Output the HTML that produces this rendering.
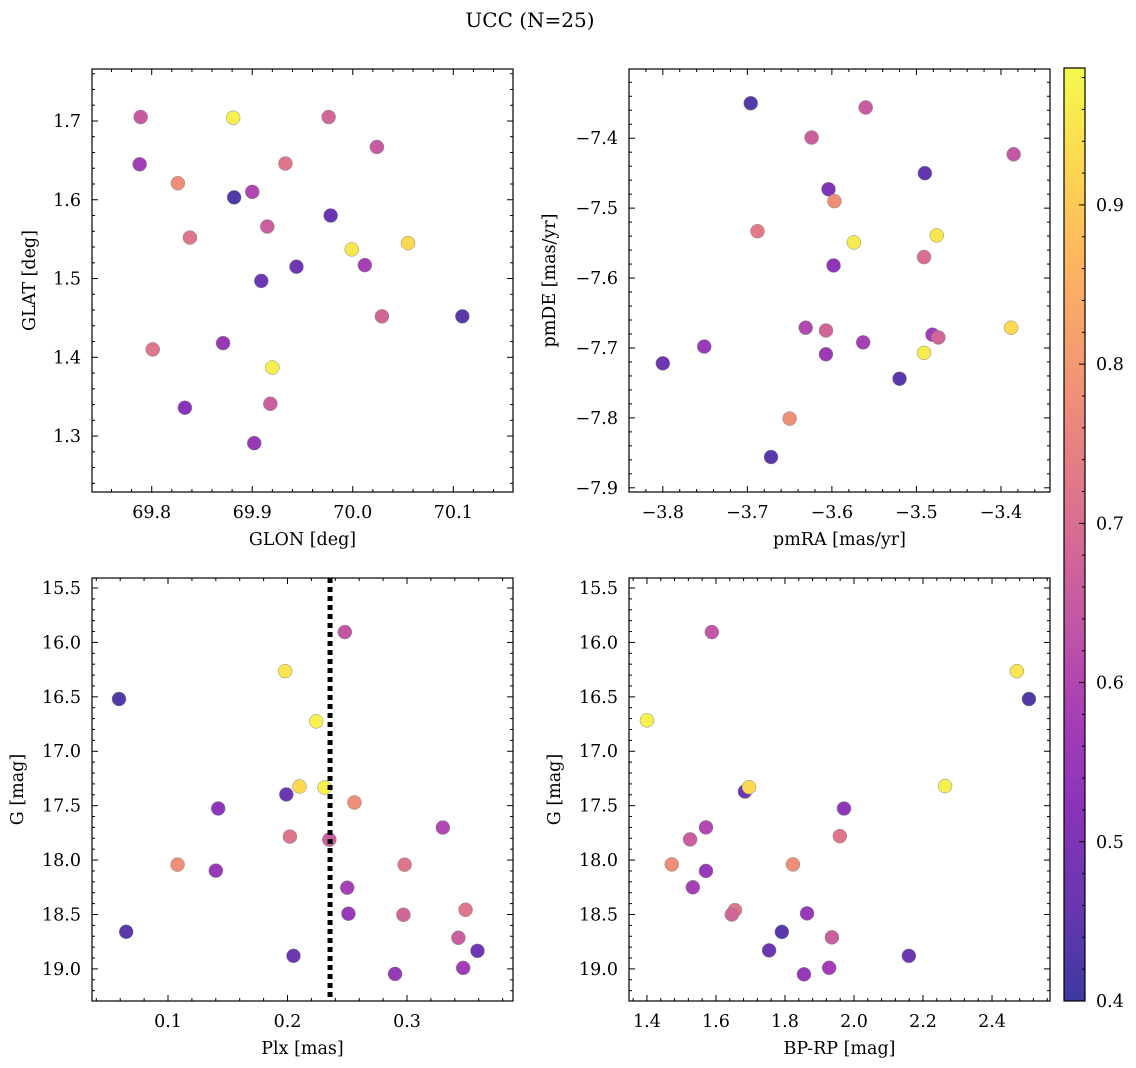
<!DOCTYPE html>
<html><head><meta charset="utf-8">
<style>
html,body{margin:0;padding:0;background:#fff;}
svg{display:block;font-family:"DejaVu Serif","Liberation Serif",serif;}
</style></head>
<body>
<svg id="fig" width="1136" height="1068" viewBox="0 0 1136 1068" xmlns="http://www.w3.org/2000/svg">
<text x="530" y="27" font-size="20" text-anchor="middle">UCC (N=25)</text>
</svg>
<script>
// ---- data ----
const glon = [69.789,69.788,69.826,69.881,69.976,69.933,70.024,69.882,69.900,69.915,69.978,69.838,69.909,69.944,69.999,70.055,70.012,70.029,70.109,69.801,69.871,69.920,69.918,69.833,69.902];
const glat = [1.705,1.645,1.621,1.704,1.705,1.646,1.667,1.603,1.610,1.566,1.580,1.552,1.497,1.515,1.537,1.545,1.517,1.452,1.452,1.410,1.418,1.387,1.341,1.336,1.291];
const cTL  = [0.65,0.57,0.78,0.97,0.68,0.72,0.65,0.43,0.60,0.66,0.46,0.72,0.47,0.47,0.95,0.93,0.58,0.68,0.44,0.72,0.55,0.97,0.66,0.52,0.55];

const pmra = [-3.696,-3.560,-3.624,-3.385,-3.490,-3.604,-3.597,-3.688,-3.574,-3.476,-3.598,-3.491,-3.631,-3.607,-3.481,-3.474,-3.388,-3.800,-3.751,-3.563,-3.607,-3.491,-3.520,-3.650,-3.672];
const pmde = [-7.350,-7.356,-7.399,-7.423,-7.450,-7.473,-7.490,-7.533,-7.549,-7.539,-7.582,-7.570,-7.671,-7.675,-7.681,-7.685,-7.671,-7.722,-7.698,-7.692,-7.709,-7.707,-7.744,-7.801,-7.856];
const cTR  = [0.43,0.65,0.66,0.64,0.45,0.50,0.78,0.73,0.96,0.95,0.53,0.70,0.60,0.68,0.57,0.68,0.93,0.47,0.55,0.58,0.56,0.96,0.44,0.78,0.44];

const plx  = [0.248,0.198,0.059,0.224,0.210,0.231,0.199,0.256,0.142,0.330,0.202,0.235,0.108,0.140,0.298,0.250,0.251,0.297,0.349,0.343,0.065,0.359,0.205,0.347,0.290];
const gBL  = [15.905,16.264,16.52,16.725,17.324,17.333,17.397,17.471,17.526,17.701,17.784,17.812,18.042,18.097,18.042,18.254,18.493,18.503,18.457,18.714,18.659,18.834,18.880,18.991,19.046];
const cBL  = [0.64,0.95,0.43,0.97,0.93,0.97,0.47,0.78,0.53,0.60,0.72,0.66,0.78,0.55,0.72,0.58,0.55,0.68,0.72,0.66,0.44,0.47,0.47,0.57,0.55];
const plxCut = 0.2356;

const bprp = [1.588,2.472,2.507,1.400,1.684,1.696,2.264,1.971,1.571,1.525,1.959,1.472,1.571,1.823,1.533,1.655,1.646,1.864,1.936,1.791,1.754,2.159,1.928,1.855];
const gBR  = [15.905,16.264,16.52,16.716,17.37,17.33,17.32,17.526,17.70,17.81,17.78,18.04,18.10,18.04,18.25,18.46,18.50,18.49,18.71,18.66,18.83,18.88,18.99,19.05];
const cBR  = [0.64,0.95,0.43,0.97,0.47,0.93,0.97,0.53,0.60,0.66,0.72,0.78,0.55,0.78,0.58,0.72,0.68,0.55,0.66,0.44,0.47,0.47,0.57,0.55];

const cbTicks = [0.4,0.5,0.6,0.7,0.8,0.9];
const cMin = 0.4, cMax = 0.986;

// ---- helpers ----
const NS = "http://www.w3.org/2000/svg";
const svg = document.getElementById('fig');
const FS = 17.5;
function el(tag, attrs, parent){const e=document.createElementNS(NS,tag);for(const k in attrs)e.setAttribute(k,attrs[k]);(parent||svg).appendChild(e);return e;}
const stops=[[13,8,135],[65,4,157],[106,0,168],[143,13,164],[177,42,144],[204,71,120],[225,100,98],[242,132,75],[252,166,54],[252,206,37],[240,249,33]];
function plasma(t){t=Math.max(0,Math.min(1,t))*10;const i=Math.min(9,Math.floor(t)),f=t-i;const a=stops[i],b=stops[i+1];
 const c=[0,1,2].map(k=>Math.round((a[k]+(b[k]-a[k])*f)*0.8+255*0.2));return `rgb(${c[0]},${c[1]},${c[2]})`;}
function fmt(v,d){let s=v.toFixed(d);if(parseFloat(s)<0)s='\u2212'+s.slice(1);return s;}

function panel(name,box,xr,yr,xt,yt,xMinor,yMinor,xd,yd,xlab,ylab,ylabX,absY){
 const [L,T,R,B]=box;
 const sx=v=>L+(v-xr[0])/(xr[1]-xr[0])*(R-L);
 const sy=v=>T+(yr[1]-v)/(yr[1]-yr[0])*(B-T);
 const g=el('g',{});
 
 
 const tk=el('g',{stroke:'#000','stroke-width':1},g);
 
 
 const eps=1e-9;
 for(let v=Math.ceil(xr[0]/xMinor-eps)*xMinor;v<=xr[1]+eps;v+=xMinor){const x=sx(v);const major=xt.some(t=>Math.abs(t-v)<xMinor/4);const l=major?6:3;
  el('line',{x1:x,x2:x,y1:B,y2:B-l},tk);el('line',{x1:x,x2:x,y1:T,y2:T+l},tk);}
 for(let v=Math.ceil(yr[0]/yMinor-eps)*yMinor;v<=yr[1]+eps;v+=yMinor){const y=sy(v);const major=yt.some(t=>Math.abs(t-v)<yMinor/4);const l=major?6:3;
  el('line',{y1:y,y2:y,x1:L,x2:L+l},tk);el('line',{y1:y,y2:y,x1:R,x2:R-l},tk);}
 xt.forEach(v=>{const t=el('text',{x:sx(v),y:B+26,'font-size':FS,'text-anchor':'middle'},g);t.textContent=fmt(v,xd);
  
  });
 yt.forEach(v=>{const t=el('text',{x:L-11,y:sy(v)+6,'font-size':FS,'text-anchor':'end'},g);t.textContent=absY?Math.abs(v).toFixed(yd):fmt(v,yd);
  
  });
 const xl=el('text',{x:(L+R)/2,y:B+53,'font-size':FS,'text-anchor':'middle'},g);xl.textContent=xlab;
 
 
 const yy=(T+B)/2;
 const yl=el('text',{x:ylabX,y:yy,'font-size':FS,'text-anchor':'middle',transform:`rotate(-90 ${ylabX} ${yy})`},g);yl.textContent=ylab;
 
 
 return {g,sx,sy,box};
}
function frame(p){const [L,T,R,B]=p.box;const r=el('rect',{x:L,y:T,width:R-L,height:B-T,fill:'none',stroke:'#000','stroke-width':1.2},p.g);
 
 }
function scatter(p,xs,ys,cs){xs.forEach((x,i)=>{const c=el('circle',{cx:p.sx(x),cy:p.sy(ys[i]),r:7,fill:plasma((cs[i]-cMin)/(cMax-cMin)),stroke:'#888','stroke-width':0.5},p.g);
 
 });}

// top-left
const p1=panel('glon-glat-panel',[92,69,513,492],[69.7406,70.1594],[1.229,1.766],[69.8,69.9,70.0,70.1],[1.3,1.4,1.5,1.6,1.7],0.02,0.02,1,1,'GLON [deg]','GLAT [deg]',35,false);
scatter(p1,glon,glat,cTL);frame(p1);
// top-right
const p2=panel('pm-panel',[629,69,1050,492],[-3.840,-3.342],[-7.906,-7.301],[-3.8,-3.7,-3.6,-3.5,-3.4],[-7.9,-7.8,-7.7,-7.6,-7.5,-7.4],0.02,0.02,1,1,'pmRA [mas/yr]','pmDE [mas/yr]',555,false);
scatter(p2,pmra,pmde,cTR);frame(p2);
// bottom-left (G inverted: plotted as negative)
const p3=panel('plx-g-panel',[92,578,513,1001],[0.0364,0.3887],[-19.295,-15.408],[0.1,0.2,0.3],[-19,-18.5,-18,-17.5,-17,-16.5,-16,-15.5],0.02,0.1,1,1,'Plx [mas]','G [mag]',23,true);
scatter(p3,plx,gBL.map(v=>-v),cBL);
const cut=el('line',{x1:p3.sx(plxCut),x2:p3.sx(plxCut),y1:578,y2:1001,stroke:'#000','stroke-width':5,'stroke-dasharray':'5,4'},p3.g);


frame(p3);
// bottom-right
const p4=panel('color-mag-panel',[629,578,1050,1001],[1.348,2.568],[-19.295,-15.408],[1.4,1.6,1.8,2.0,2.2,2.4],[-19,-18.5,-18,-17.5,-17,-16.5,-16,-15.5],0.04,0.1,1,1,'BP-RP [mag]','G [mag]',560,true);
scatter(p4,bprp,gBR.map(v=>-v),cBR);frame(p4);

// colorbar
const cb=el('g',{});


const defs=el('defs',{},cb);
const lg=el('linearGradient',{id:'cbg',x1:0,y1:1,x2:0,y2:0},defs);
for(let i=0;i<=20;i++){el('stop',{offset:i/20,'stop-color':plasma(i/20)},lg);}
const CL=1064,CR=1085,CT=68,CB=1001;
el('rect',{x:CL,y:CT,width:CR-CL,height:CB-CT,fill:'url(#cbg)'},cb);
const cy=v=>CB-(v-cMin)/(cMax-cMin)*(CB-CT);
for(let v=0.4;v<=cMax+1e-9;v+=0.02){const y=cy(v);const major=Math.abs(v*10-Math.round(v*10))<0.01;el('line',{x1:CR,x2:CR-(major?6:3),y1:y,y2:y,stroke:'#000'},cb);}
cbTicks.forEach(v=>{const t=el('text',{x:CR+11,y:cy(v)+6,'font-size':FS},cb);t.textContent=v.toFixed(1);
 
 });
el('rect',{x:CL,y:CT,width:CR-CL,height:CB-CT,fill:'none',stroke:'#000','stroke-width':1.2},cb);
</script>
</body></html>
